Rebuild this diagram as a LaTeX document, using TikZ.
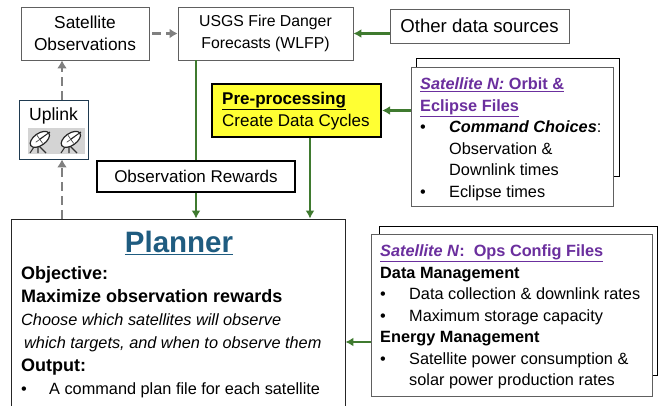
\documentclass[tikz,border=0pt]{standalone}
\usepackage{fontspec}
\setmainfont{Liberation Sans}
\usetikzlibrary{arrows.meta}
\definecolor{arrowgreen}{HTML}{3F7A2F}
\definecolor{arrowgray}{HTML}{808080}
\definecolor{boxgray}{HTML}{606060}
\definecolor{filepurple}{HTML}{6B2F9E}
\definecolor{plannerblue}{HTML}{1F5C80}
\definecolor{uplinkblue}{HTML}{1F3A50}
\definecolor{dishgray}{HTML}{D4D4D4}
\definecolor{prepyellow}{HTML}{FFFF33}
\newcommand{\bul}[1]{\makebox[#1][l]{\textbullet}}
\newcommand{\bodyfont}{\fontsize{16.3}{21.5}\selectfont}
\newcommand{\headfont}{\fontsize{18}{23}\selectfont}
\tikzset{
    graybox/.style={draw=boxgray, line width=0.9pt, fill=white, inner sep=0pt, align=center, font=\bodyfont},
    blackbox/.style={draw=black, line width=2.2pt, inner sep=0pt, align=center, font=\fontsize{17}{22}\selectfont},
    backbox/.style={draw=black, line width=0.7pt, fill=white, inner sep=0pt},
    filebox/.style={draw=boxgray, line width=0.9pt, fill=white, inner sep=0pt, font=\bodyfont},
    textline/.style={inner sep=0pt, align=left, anchor=north west, font=\bodyfont},
    greenarrow/.style={draw=arrowgreen, line width=2.8pt, -{Latex[length=8pt,width=9pt]}},
    greenline/.style={draw=arrowgreen, line width=2.8pt},
    grayarrow/.style={draw=arrowgray, line width=2.6pt, dash pattern=on 9pt off 5pt, -{Latex[length=8pt,width=10pt]}},
    dish/.pic={
        \draw[black!80, line width=1.1pt] (-5,3) -- (-11,12) (-3,4) -- (-3,12) (-3,4) -- (5,12);
        \draw[black!85, line width=1.2pt, fill=white, rotate=35] (0,-2) ellipse (11 and 6);
        \draw[black!70, line width=0.7pt, rotate=35] (-5,-2) -- (5,-2) (0,-7) -- (0,3);
        \draw[black!85, line width=1pt] (-1,-2) -- (9,-9);
    },
}
\begin{document}
\begin{tikzpicture}[x=1pt, y=-1pt]
    \useasboundingbox (0,0) rectangle (659,405);

    % top row
    \node[graybox, minimum width=128, minimum height=53, font=\fontsize{17.3}{21.5}\selectfont] (satobs) at (85,33.5) {Satellite\\Observations};
    \node[graybox, minimum width=175, minimum height=53, font=\fontsize{15.8}{21.5}\selectfont] (wlfp) at (265.5,33.5) {USGS Fire Danger\\Forecasts (WLFP)};
    \node[graybox, minimum width=179, minimum height=34, font=\fontsize{18.6}{22}\selectfont] (other) at (479.5,26) {Other data sources};

    % middle
    \node[blackbox, fill=prepyellow, minimum width=169, minimum height=53] (prep) at (296.5,110.5) {};
    \node[textline, font=\fontsize{17}{22}\selectfont] (preptext) at (222,92) {\textbf{\underline{Pre-processing}}\\Create Data Cycles};
    \node[blackbox, fill=white, minimum width=198, minimum height=31] (rewards) at (196,176.5) {Observation Rewards};

    % uplink with its two dishes
    \node[draw=uplinkblue, line width=0.9pt, fill=white, minimum width=69, minimum height=59, inner sep=0pt] (uplink) at (53.5,129.5) {};
    \node[inner sep=0pt, font=\fontsize{17.6}{21}\selectfont] (uplinktext) at (53.5,116) {Uplink};
    \node[fill=dishgray, minimum width=57, minimum height=26, inner sep=0pt] (dishes) at (56.5,141) {};
    \pic at (41,141) {dish};
    \pic at (72,141) {dish};

    % orbit files
    \node[backbox, minimum width=203, minimum height=118] (orbitback) at (517.5,117) {};
    \node[filebox, minimum width=202, minimum height=139] (orbit) at (512,136.5) {};
    \node[textline] (orbittext) at (420,77.5) {\textcolor{filepurple}{\textbf{\underline{\textit{Satellite N:} Orbit \&}}}\\
        \textcolor{filepurple}{\textbf{\underline{Eclipse Files}}}\\
        \bul{29pt}\textbf{\textit{Command Choices}}:\\
        \hspace*{29pt}Observation \&\\
        \hspace*{29pt}Downlink times\\
        \bul{29pt}Eclipse times};

    % ops config files
    \node[backbox, minimum width=278, minimum height=149] (opsback) at (518,300.5) {};
    \node[filebox, minimum width=281, minimum height=162] (ops) at (511.5,315) {};
    \node[textline] (opstext) at (380,244.5) {\textcolor{filepurple}{\textbf{\underline{\textit{Satellite N}:\ \ Ops Config Files}}}\\
        \textbf{Data Management}\\
        \bul{29pt}Data collection \& downlink rates\\
        \bul{29pt}Maximum storage capacity\\
        \textbf{Energy Management}\\
        \bul{29pt}Satellite power consumption \&\\
        \hspace*{29pt}solar power production rates};

    % planner, its lower edge falls off the page
    \node[draw=black!85, line width=0.9pt, fill=white, minimum width=334, minimum height=190, inner sep=0pt] (planner) at (178,314) {};
    \node[inner sep=0pt, text=plannerblue, font=\fontsize{29.5}{34}\selectfont\bfseries] (plannertitle) at (179,243) {\underline{Planner}};
    \node[textline, font=\fontsize{16.3}{22.9}\selectfont] (plannertext) at (21,266.5) {\textbf{\headfont Objective:}\\
        \textbf{\headfont Maximize observation rewards}\\
        \textit{Choose which satellites will observe}\\
        \hspace*{3pt}\textit{which targets, and when to observe them}\\
        \textbf{\headfont Output:}\\
        \bul{28pt}A command plan file for each satellite};

    % x positions of the vertical connectors
    \coordinate (xup) at (62,0);
    \coordinate (xwlfp) at (196,0);
    \coordinate (xprep) at (310,0);

    % gray dashed arrows
    \draw[grayarrow, shorten <=3pt] (satobs.east) -- (wlfp.west);
    \draw[grayarrow] (uplink.north -| xup) -- (satobs.south -| xup);
    \draw[grayarrow] (planner.north -| xup) -- (uplink.south -| xup);

    % green arrows
    \draw[greenarrow] (other.west |- wlfp.east) -- (wlfp.east);
    \draw[greenarrow] (orbit.west |- prep.east) -- (prep.east);
    \draw[greenarrow] (ops.west |- 0,342) -- (planner.east |- 0,342);
    \draw[greenline] (wlfp.south -| xwlfp) -- (rewards.north -| xwlfp);
    \draw[greenarrow] (rewards.south -| xwlfp) -- (planner.north -| xwlfp);
    \draw[greenarrow] (prep.south -| xprep) -- (planner.north -| xprep);
\end{tikzpicture}
\end{document}
